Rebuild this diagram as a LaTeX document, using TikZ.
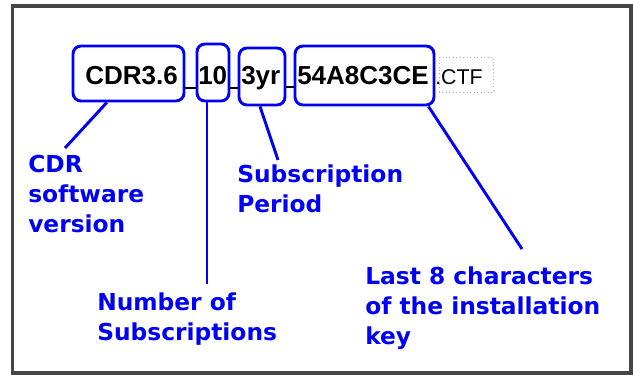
\documentclass[tikz,border=0pt]{standalone}
\usepackage{fontspec}
\newfontfamily\lblfont{DejaVu Sans}
\newfontfamily\fnfont{Liberation Sans}
\usetikzlibrary{calc}
\definecolor{mblue}{RGB}{0,0,245}
\definecolor{framegray}{RGB}{70,70,70}
\begin{document}
\begin{tikzpicture}[x=0.75pt,y=-0.75pt,
  keybox/.style={draw=mblue, line width=2.2pt, rounded corners=6pt, inner sep=0pt,
    minimum width=#1*0.75pt},
  keyh/.style={minimum height=#1*0.75pt},
  fname/.style={anchor=base west, inner sep=0pt, font=\fnfont\bfseries\fontsize{19.5}{22}\selectfont},
  fext/.style={anchor=base west, inner sep=0pt, font=\fnfont\fontsize{16}{19}\selectfont},
  ctfbox/.style={draw=gray!60, dotted, line width=0.6pt, inner sep=0pt},
  lbl/.style={anchor=north west, inner sep=0pt, align=left, text=mblue,
    font=\lblfont\bfseries\fontsize{17.5}{22.5}\selectfont},
  leader/.style={draw=mblue, line width=2.2pt},
  uscore/.style={draw=black, line width=1.1pt}
]
\useasboundingbox (0,0) rectangle (633,375);
\draw[framegray, line width=2.6pt] (12.5,6) rectangle (631,373);

% boxes
\node[keybox=111, keyh=55] (b1) at (128.5,73.5) {};
\node[keybox=32, keyh=57] (b2) at (213,72.5) {};
\node[keybox=46, keyh=57] (b3) at (262,76.5) {};
\node[keybox=139, keyh=59] (b4) at (364.5,75.5) {};
\node[ctfbox, minimum width=54*0.75pt, minimum height=35*0.75pt] (bc) at (466,74.5) {};

% file name parts
\node[fname] (t1) at (85,84) {CDR3.6};
\node[fname] (t2) at (198,84) {10};
\node[fname] (t3) at (241,84) {3yr};
\node[fname] (t4) at (297,84) {54A8C3CE};
\node[fext] (t5) at (435,84) {.CTF};

% underscores
\draw[uscore] (b1.east |- 0,88) -- (b2.west |- 0,88);
\draw[uscore] (b2.east |- 0,88) -- (b3.west |- 0,88);
\draw[uscore] (b3.east |- 0,87) -- (b4.west |- 0,87);

% labels
\node[lbl] (l1) at (28,155) {CDR\\software\\version};
\node[lbl] (l2) at (97,292.5) {Number of\\Subscriptions};
\node[lbl] (l3) at (237,164.5) {Subscription\\Period};
\node[lbl] (l4) at (365,266.5) {Last 8 characters\\of the installation\\key};

% leader ends
\coordinate (e1) at (65,148);
\coordinate (e2) at (207,284);
\coordinate (e3) at (278,160);
\coordinate (e4) at (522,249);

\draw[leader] ($(b1.south west)!0.31!(b1.south east)$) -- (e1);
\draw[leader] ($(b2.south)+(-6,0)$) -- (e2);
\draw[leader] ($(b3.south)+(-2,0)$) -- (e3);
\draw[leader] ($(b4.south east)+(-7,0)$) -- (e4);
\end{tikzpicture}
\end{document}
